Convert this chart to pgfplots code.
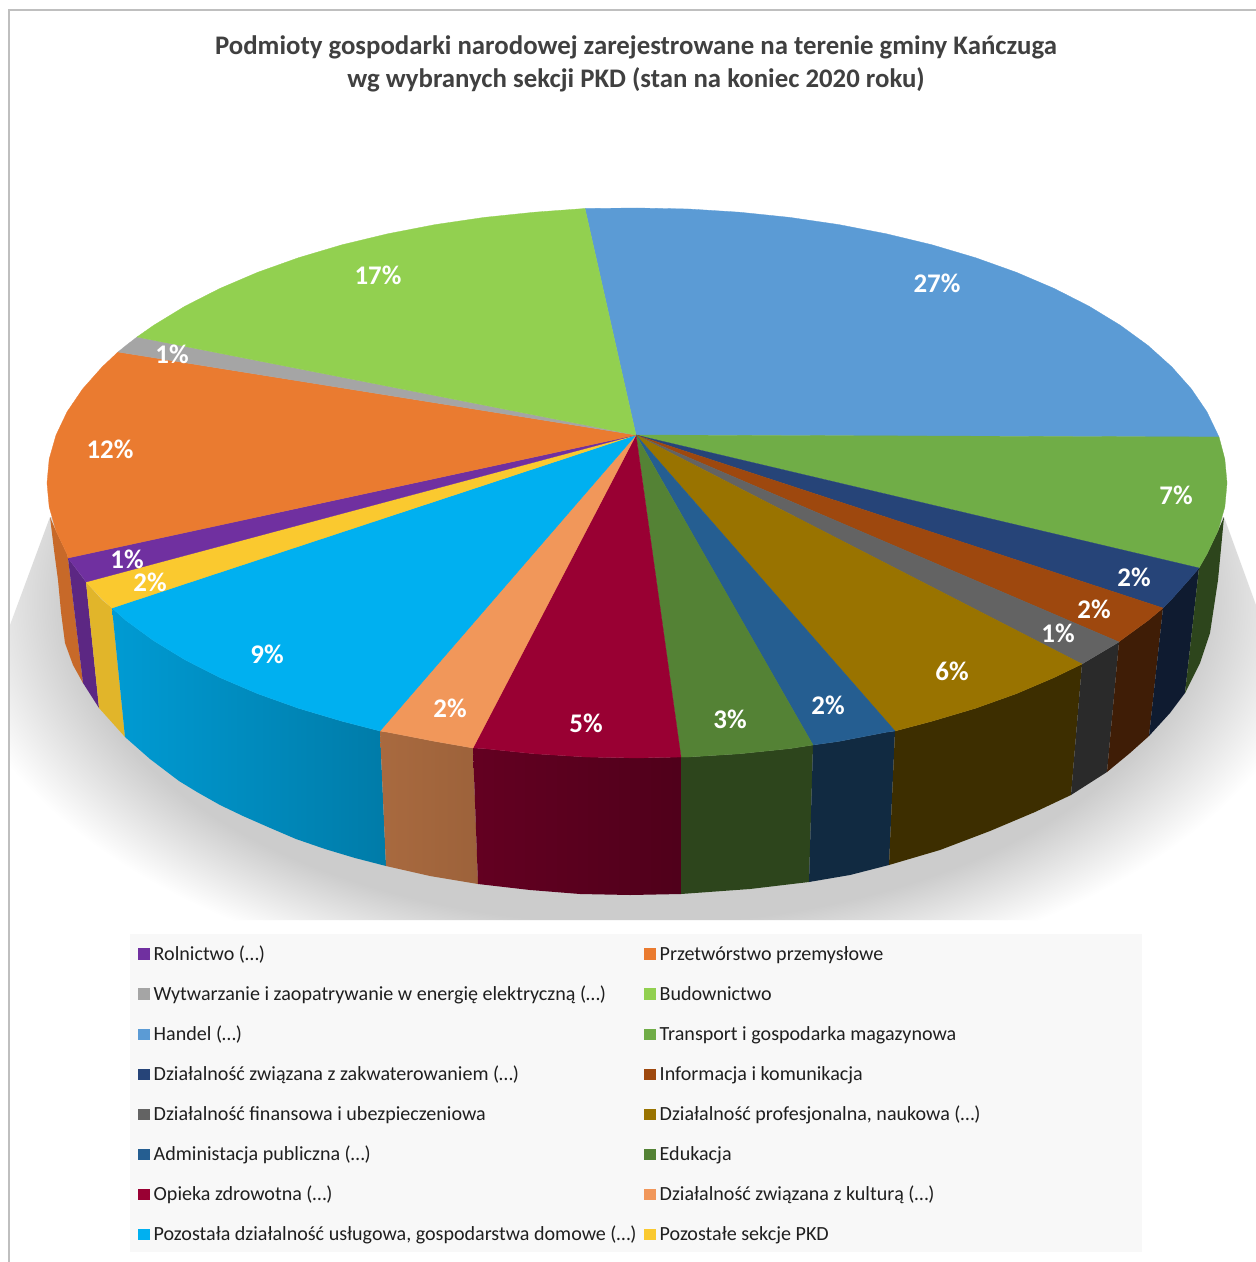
\documentclass[border=0pt]{standalone}
\usepackage{pgfplots}
\pgfplotsset{compat=1.18}
\usepackage{fontspec}
\setmainfont{Carlito}
\definecolor{cPur}{HTML}{7030A0}\definecolor{cOra}{HTML}{EA7B30}\definecolor{cGry}{HTML}{A5A5A5}
\definecolor{cLgr}{HTML}{92D050}\definecolor{cBlu}{HTML}{5B9BD5}\definecolor{cGrn}{HTML}{70AD47}
\definecolor{cNav}{HTML}{264478}\definecolor{cBro}{HTML}{9E480E}\definecolor{cDgy}{HTML}{636363}
\definecolor{cGol}{HTML}{997300}\definecolor{cBl2}{HTML}{255E91}\definecolor{cDgn}{HTML}{548235}
\definecolor{cMar}{HTML}{990033}\definecolor{cSal}{HTML}{F1975A}\definecolor{cCya}{HTML}{00B0F0}
\definecolor{cYel}{HTML}{FAC92F}
\definecolor{ttl}{HTML}{404040}\definecolor{lgbg}{HTML}{F8F8F8}\definecolor{frm}{HTML}{BFBFBF}
\pgfdeclareradialshading{shadowsh}{\pgfpointorigin}{color(0bp)=(black!20); color(20.5bp)=(black!20); color(25bp)=(white); color(50bp)=(white)}
\newcommand{\pct}[3]{\node[text=white,font=\fontsize{27}{29}\selectfont\bfseries] at (axis cs:#1,#2) {#3\%};}
\newcommand{\lgi}[4]{\addplot[only marks,color=#3,mark=square*,mark size=5.2bp,mark options={solid,draw=#3,fill=#3,line width=0pt}] coordinates {(#1,#2)};
  \node[anchor=base west,inner sep=0pt,xshift=9.5bp,yshift=-6.3bp,text=black!88,font=\fontsize{20.15}{22}\selectfont] at (axis cs:#1,#2) {#4};}
\begin{document}
\begin{tikzpicture}
\begin{axis}[at={(0,0)},anchor=south west,width=1256bp,height=1262bp,scale only axis,xmin=0,xmax=1256,ymin=0,ymax=1262,y dir=reverse,hide axis,clip=true]
% page extent
\addplot[fill=white,draw=none] coordinates {(0,0)(1256,0)(1256,1262)(0,1262)};
% frame
\addplot[draw=frm,line width=2bp] coordinates {(9,1262)(9,10)(1256,10)};
% shadow
\begin{scope}[overlay]
\clip (axis cs:50,517) -- (axis cs:10,625) -- (axis cs:10,920) -- (axis cs:1256,920) -- (axis cs:1256,605) -- (axis cs:1224,517) -- cycle;
\shade[shading=shadowsh] (axis cs:635,600) ellipse [x radius=690bp,y radius=395bp];
\end{scope}
% walls
\addplot[fill=cOra!85!black,draw=none] coordinates {(50,517)(56,531)(67,554)(68,558)(83,683)(73,665)(65,643)(61,612)(58,580)(54,550)};
\addplot[fill=cPur!82!black,draw=none] coordinates {(68,558)(86,582)(99,708)(83,683)};
\addplot[fill=cYel!90!black,draw=none] coordinates {(86,582)(102,600)(112,608)(125,737)(99,708)};
\addplot[draw=none,shade,left color=cCya!88!black,right color=cCya!70!black] coordinates {(112,608)(126,620.5)(153.7,640.7)(185,659.8)(219.8,677.5)(257.7,693.7)(298.6,708.3)(342,721.2)(380,731)(386,866)(355,858)(325,849)(296,839)(268,827)(243,816)(220,805)(197,792)(179,781)(150,759)(125,737)};
\addplot[draw=none,shade,left color=cSal!70!black,right color=cSal!65!black] coordinates {(380,731)(387.7,732.2)(435.2,741.4)(473,748)(478,884)(430,876)(386,866)};
\addplot[draw=none,shade,left color=cMar!65!black,right color=cMar!52!black] coordinates {(473,748)(484.3,748.6)(534.6,753.8)(585.6,757)(637,758)(681,757)(681,894)(630,895)(580,894)(530,890)(478,884)};
\addplot[fill=cGrn!40!black,draw=none] coordinates {(681,757)(688.4,757)(739.4,753.8)(789.7,748.6)(813,745)(809,882)(750,889)(681,894)};
\addplot[fill=cBl2!45!black,draw=none] coordinates {(813,745)(838.8,741.4)(886.3,732.2)(895,731)(889,865)(850,875)(809,882)};
\addplot[fill=cGol!40!black,draw=none] coordinates {(895,731)(932,721.2)(975.4,708.3)(1016.3,693.7)(1054.2,677.5)(1082,664)(1071,795)(1035,812)(990,831)(940,850)(889,865)};
\addplot[fill=cDgy!42!black,draw=none] coordinates {(1082,664)(1089,659.8)(1119,642)(1107,772)(1071,795)};
\addplot[fill=cBro!40!black,draw=none] coordinates {(1119,642)(1120.3,640.7)(1148,620.5)(1163,608)(1149,736)(1130,753)(1107,772)};
\addplot[fill=cNav!40!black,draw=none] coordinates {(1163,608)(1171.7,599.2)(1191.4,577)(1199,568)(1185,693)(1170,713)(1149,736)};
\addplot[fill=cGrn!40!black,draw=none] coordinates {(1199,568)(1206.9,554.2)(1218,530.8)(1224,517)(1218,580)(1210,633)(1200,663)(1185,693)};
% top wedges
\addplot[fill=cBlu,draw=cBlu,line width=.3bp] coordinates {(636,435)(585,208.5)(637,208)(688.4,209)(739.4,212.2)(789.7,217.4)(838.8,224.6)(886.3,233.8)(932,244.8)(975.4,257.7)(1016.3,272.3)(1054.2,288.5)(1089,306.2)(1120.3,325.3)(1148,345.5)(1171.7,366.8)(1191.4,389)(1206.9,411.8)(1219,437)(636,435)};
\addplot[fill=cGrn,draw=cGrn,line width=.3bp] coordinates {(636,435)(1219,437)(1224.8,459)(1227,483)(1224.8,507)(1218,530.8)(1206.9,554.2)(1199,568)(636,435)};
\addplot[fill=cNav,draw=cNav,line width=.3bp] coordinates {(636,435)(1199,568)(1191.4,577)(1171.7,599.2)(1163,608)(636,435)};
\addplot[fill=cBro,draw=cBro,line width=.3bp] coordinates {(636,435)(1163,608)(1148,620.5)(1120.3,640.7)(1119,642)(636,435)};
\addplot[fill=cDgy,draw=cDgy,line width=.3bp] coordinates {(636,435)(1119,642)(1089,659.8)(1082,664)(636,435)};
\addplot[fill=cGol,draw=cGol,line width=.3bp] coordinates {(636,435)(1082,664)(1054.2,677.5)(1016.3,693.7)(975.4,708.3)(932,721.2)(895,731)(636,435)};
\addplot[fill=cBl2,draw=cBl2,line width=.3bp] coordinates {(636,435)(895,731)(886.3,732.2)(838.8,741.4)(813,745)(636,435)};
\addplot[fill=cDgn,draw=cDgn,line width=.3bp] coordinates {(636,435)(813,745)(789.7,748.6)(739.4,753.8)(688.4,757)(681,757)(636,435)};
\addplot[fill=cMar,draw=cMar,line width=.3bp] coordinates {(636,435)(681,757)(637,758)(585.6,757)(534.6,753.8)(484.3,748.6)(473,748)(636,435)};
\addplot[fill=cSal,draw=cSal,line width=.3bp] coordinates {(636,435)(473,748)(435.2,741.4)(387.7,732.2)(380,731)(636,435)};
\addplot[fill=cCya,draw=cCya,line width=.3bp] coordinates {(636,435)(380,731)(342,721.2)(298.6,708.3)(257.7,693.7)(219.8,677.5)(185,659.8)(153.7,640.7)(126,620.5)(112,608)(636,435)};
\addplot[fill=cYel,draw=cYel,line width=.3bp] coordinates {(636,435)(112,608)(102.3,599.2)(86,582)(636,435)};
\addplot[fill=cPur,draw=cPur,line width=.3bp] coordinates {(636,435)(86,582)(82.6,577)(68,558)(636,435)};
\addplot[fill=cOra,draw=cOra,line width=.3bp] coordinates {(636,435)(68,558)(67.1,554.2)(56,530.8)(49.2,507)(47,483)(49.2,459)(56,435.2)(67.1,411.8)(82.6,389)(102.3,366.8)(118,352)(636,435)};
\addplot[fill=cGry,draw=cGry,line width=.3bp] coordinates {(636,435)(118,352)(126,345.5)(137,337)(636,435)};
\addplot[fill=cLgr,draw=cLgr,line width=.3bp] coordinates {(636,435)(137,337)(153.7,325.3)(185,306.2)(219.8,288.5)(257.7,272.3)(298.6,257.7)(342,244.8)(387.7,233.8)(435.2,224.6)(484.3,217.4)(534.6,212.2)(585,208.5)(636,435)};
% percent labels
\pct{937}{283}{27}\pct{1176}{495}{7}\pct{1134}{577}{2}\pct{1094}{609}{2}\pct{1058}{633}{1}\pct{952}{671}{6}
\pct{828}{705}{2}\pct{730}{719}{3}\pct{586}{723}{5}\pct{450}{708}{2}\pct{267}{654}{9}\pct{150}{582}{2}
\pct{127}{559}{1}\pct{110}{449}{12}\pct{172}{354}{1}\pct{378}{275}{17}
% title
\node[text=ttl,font=\fontsize{26.9}{32}\selectfont\bfseries] at (axis cs:636,47.5) {Podmioty gospodarki narodowej zarejestrowane na terenie gminy Kańczuga};
\node[text=ttl,font=\fontsize{26.9}{32}\selectfont\bfseries] at (axis cs:636,79.5) {wg wybranych sekcji PKD (stan na koniec 2020 roku)};
% legend
\addplot[fill=lgbg,draw=none] coordinates {(130,934)(1142,934)(1142,1252)(130,1252)};
\lgi{144}{954}{cPur}{Rolnictwo (…)}
\lgi{144}{994}{cGry}{Wytwarzanie i zaopatrywanie w energię elektryczną (…)}
\lgi{144}{1034.5}{cBlu}{Handel (…)}
\lgi{144}{1074.5}{cNav}{Działalność związana z zakwaterowaniem (…)}
\lgi{144}{1114.5}{cDgy}{Działalność finansowa i ubezpieczeniowa}
\lgi{144}{1154.5}{cBl2}{Administacja publiczna (…)}
\lgi{144}{1194.5}{cMar}{Opieka zdrowotna (…)}
\lgi{144}{1234.5}{cCya}{Pozostała działalność usługowa, gospodarstwa domowe (…)}
\lgi{650}{954}{cOra}{Przetwórstwo przemysłowe}
\lgi{650}{994}{cLgr}{Budownictwo}
\lgi{650}{1034.5}{cGrn}{Transport i gospodarka magazynowa}
\lgi{650}{1074.5}{cBro}{Informacja i komunikacja}
\lgi{650}{1114.5}{cGol}{Działalność profesjonalna, naukowa (…)}
\lgi{650}{1154.5}{cDgn}{Edukacja}
\lgi{650}{1194.5}{cSal}{Działalność związana z kulturą (…)}
\lgi{650}{1234.5}{cYel}{Pozostałe sekcje PKD}
\end{axis}
\end{tikzpicture}
\end{document}
